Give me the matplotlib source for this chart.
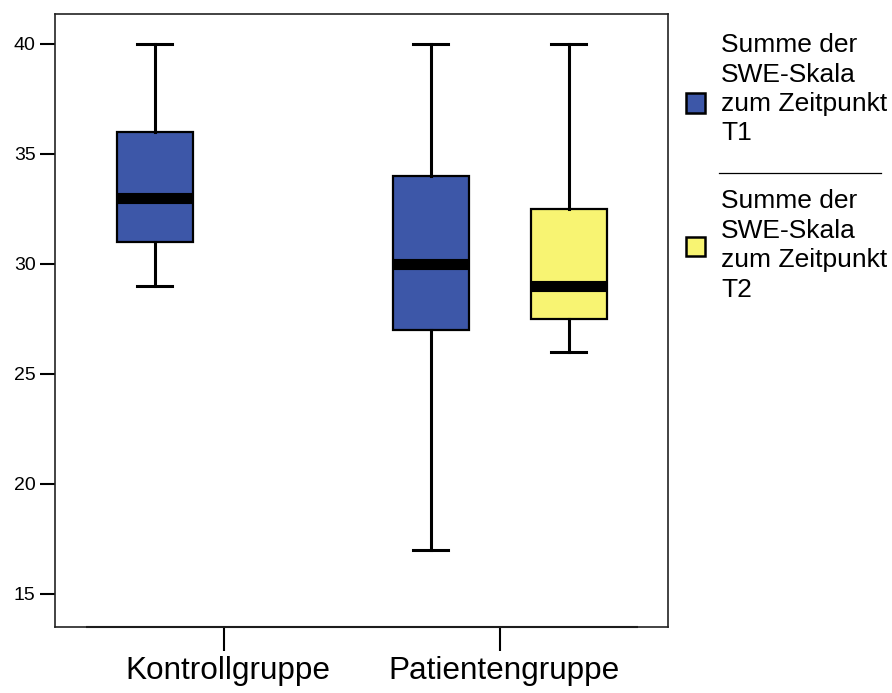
import matplotlib
matplotlib.use("Agg")
import matplotlib.pyplot as plt
from matplotlib.patches import Rectangle
from matplotlib.lines import Line2D
from matplotlib.transforms import ScaledTranslation

plt.rcParams["font.family"] = ["Liberation Sans", "DejaVu Sans"]

# Data: five-number summaries (lower whisker, Q1, median, Q3, upper whisker)
groups = ["Kontrollgruppe", "Patientengruppe"]
t1_low = [29, 17]
t1_q1 = [31, 27]
t1_med = [33, 30]
t1_q3 = [36, 34]
t1_high = [40, 40]
# T2 only available for the patient group
t2_groups = ["Patientengruppe"]
t2_low = [26]
t2_q1 = [27.5]
t2_med = [29]
t2_q3 = [32.5]
t2_high = [40]

series_labels = [["Summe der", "SWE-Skala", "zum Zeitpunkt", "T1"],
                 ["Summe der", "SWE-Skala", "zum Zeitpunkt", "T2"]]
colors = ["#3D57A8", "#F8F472"]
yticks = [15, 20, 25, 30, 35, 40]

W, H = 892, 693
fig = plt.figure(figsize=(W / 100, H / 100), dpi=100)
ax = fig.add_axes([55 / W, (H - 627) / H, 613 / W, 613 / H])


def stats(lo, q1, med, q3, hi):
    return [dict(whislo=a, q1=b, med=c, q3=d, whishi=e, fliers=[])
            for a, b, c, d, e in zip(lo, q1, med, q3, hi)]


offset = 0.25
width = 0.278
common = dict(
    widths=width, patch_artist=True, showfliers=False,
    boxprops=dict(edgecolor="black", linewidth=1.6),
    whiskerprops=dict(color="black", linewidth=2.2),
    capprops=dict(color="black", linewidth=2.2),
    medianprops=dict(color="black", linewidth=8, solid_capstyle="butt"),
    capwidths=0.127,
)

pos1 = [groups.index(g) - offset for g in groups]
b1 = ax.bxp(stats(t1_low, t1_q1, t1_med, t1_q3, t1_high), positions=pos1, **common)
pos2 = [groups.index(g) + offset for g in t2_groups]
b2 = ax.bxp(stats(t2_low, t2_q1, t2_med, t2_q3, t2_high), positions=pos2, **common)
for b, c in ((b1, colors[0]), (b2, colors[1])):
    for box in b["boxes"]:
        box.set_facecolor(c)

ax.set_xlim(-0.612, 1.609)
ax.set_ylim(13.5, 41.36)
ax.set_xticks(range(len(groups)))
ax.set_xticklabels(groups, fontsize=22.7)
ax.set_yticks(yticks)
ax.set_yticklabels([str(v) for v in yticks], fontsize=14)
ax.tick_params(axis="x", length=17, width=1.5, pad=4, direction="out")
ax.tick_params(axis="y", length=11, width=1.5, pad=3, direction="out")
# nudge category labels slightly to the right of their ticks
shift = ScaledTranslation(4 / 100, 0, fig.dpi_scale_trans)
for lbl in ax.get_xticklabels():
    lbl.set_transform(lbl.get_transform() + shift)
for s in ax.spines.values():
    s.set_linewidth(1.2)
    s.set_color("#222222")
# Category axis line
ax.plot([-0.5, 1.5], [13.5, 13.5], color="black", linewidth=1.5,
        clip_on=False, solid_capstyle="butt")


def fx(px):
    return px / W


def fy(py):
    return 1 - py / H


# Legend entries: swatch plus four text lines placed on fixed baselines
sq = 19
line_step = 29.5
for lines, c, sq_cy, first_base in ((series_labels[0], colors[0], 103, 52),
                                    (series_labels[1], colors[1], 247, 208)):
    fig.patches.append(Rectangle((fx(686), fy(sq_cy + sq / 2)), sq / W, sq / H,
                                 transform=fig.transFigure, facecolor=c,
                                 edgecolor="black", linewidth=1.8))
    for i, t in enumerate(lines):
        fig.text(fx(721), fy(first_base + i * line_step), t, fontsize=19,
                 va="baseline", ha="left")

fig.lines.append(Line2D([fx(719), fx(881)], [fy(173), fy(173)],
                        transform=fig.transFigure, color="black", linewidth=0.9))

fig.savefig("out.png", dpi=100)
